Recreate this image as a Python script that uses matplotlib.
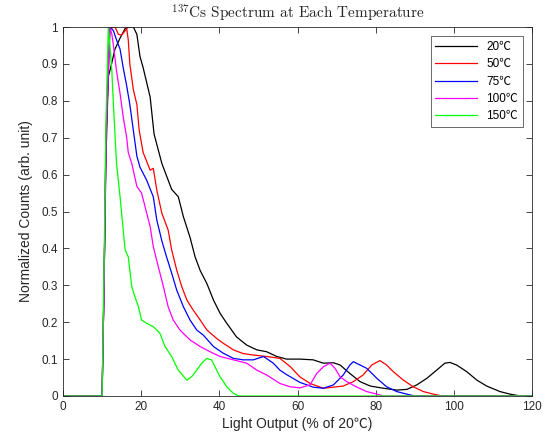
import matplotlib
matplotlib.use("Agg")
import matplotlib.pyplot as plt

# ---- data ----
x_20 = [0, 10, 10.5, 11, 11.6, 12.2, 13.3, 14.6, 15.9, 17.1, 18.0, 18.9, 19.7, 20.5, 22.3, 23.3, 25.3, 27.8,
        29.5, 30.8, 32.5, 33.8, 35.1, 36.8, 38.5, 40.2, 41.9, 44.4, 47.0, 49.6, 52.1, 54.7, 57.2, 60.6, 64.0,
        66.6, 69.2, 70.9, 73.4, 76.0, 78.6, 82.0, 85.4, 88.0, 90.5, 93.1, 95.6, 97.7, 99.0, 100.7, 103.3,
        105.9, 108.4, 111.8, 114.4, 117.0, 120]
y_20 = [0, 0, 0.30, 0.65, 0.866, 0.89, 0.94, 0.97, 0.996, 1.0, 1.0, 0.98, 0.92, 0.89, 0.81, 0.71, 0.63, 0.56,
        0.54, 0.486, 0.43, 0.377, 0.34, 0.305, 0.26, 0.224, 0.197, 0.16, 0.138, 0.125, 0.12, 0.107, 0.10, 0.10,
        0.098, 0.089, 0.09, 0.084, 0.061, 0.039, 0.027, 0.021, 0.016, 0.018, 0.03, 0.048, 0.07, 0.089, 0.091,
        0.084, 0.066, 0.043, 0.027, 0.012, 0.005, 0.0, 0.0]

x_50 = [0, 10, 10.5, 11, 12.0, 13.3, 14.2, 15.0, 15.9, 16.3, 16.7, 17.1, 18.0, 18.9, 19.5, 20.5, 22.3, 23.1,
        24.0, 25.3, 26.9, 27.8, 29.1, 30.4, 31.7, 33.3, 35.1, 36.8, 39.3, 41.0, 43.6, 46.1, 48.7, 52.1, 55.5,
        58.1, 60.6, 63.2, 66.6, 69.2, 71.7, 74.3, 76.8, 79.0, 81.1, 82.8, 84.5, 87.1, 89.6, 92.2, 94.8, 97.0, 120]
y_50 = [0, 0, 0.30, 0.70, 0.996, 1.0, 0.98, 0.978, 0.99, 0.996, 0.965, 0.90, 0.83, 0.79, 0.72, 0.66, 0.612,
        0.617, 0.558, 0.495, 0.45, 0.396, 0.341, 0.296, 0.26, 0.233, 0.206, 0.179, 0.156, 0.143, 0.125, 0.115,
        0.111, 0.107, 0.102, 0.08, 0.052, 0.034, 0.021, 0.024, 0.027, 0.039, 0.057, 0.084, 0.096, 0.084, 0.066,
        0.043, 0.025, 0.012, 0.005, 0.0, 0.0]

x_75 = [0, 10, 10.5, 11, 12.0, 12.9, 13.7, 14.6, 15.4, 16.3, 17.1, 18.0, 18.9, 19.7, 21.4, 23.1, 24.0, 25.3,
        26.5, 27.8, 29.1, 30.8, 32.5, 34.2, 35.9, 38.5, 41.0, 43.6, 46.1, 48.7, 51.3, 53.8, 55.5, 57.2, 60.6,
        64.0, 66.6, 69.2, 71.7, 73.4, 74.3, 76.0, 77.7, 80.3, 82.8, 85.4, 88.0, 90.0, 120]
y_75 = [0, 0, 0.30, 0.70, 1.0, 0.99, 0.965, 0.94, 0.89, 0.84, 0.79, 0.72, 0.65, 0.62, 0.585, 0.54, 0.477, 0.42,
        0.377, 0.333, 0.287, 0.242, 0.206, 0.179, 0.165, 0.134, 0.116, 0.102, 0.098, 0.098, 0.107, 0.089,
        0.07, 0.058, 0.037, 0.024, 0.021, 0.03, 0.057, 0.084, 0.093, 0.084, 0.075, 0.048, 0.025, 0.012, 0.005,
        0.0, 0.0]

x_100 = [0, 10, 10.5, 11, 12.0, 12.5, 12.9, 13.7, 14.6, 15.4, 16.3, 16.7, 17.6, 18.9, 20.1, 21.0, 22.3, 23.1,
         24.4, 25.7, 26.9, 28.2, 29.9, 32.5, 35.1, 37.6, 40.2, 43.6, 47.0, 49.6, 52.1, 55.5, 58.1, 60.6, 63.2,
         64.9, 66.6, 68.3, 69.6, 70.9, 72.6, 75.2, 77.7, 80.3, 82.0, 120]
y_100 = [0, 0, 0.30, 0.70, 1.0, 0.98, 0.95, 0.88, 0.82, 0.757, 0.70, 0.66, 0.63, 0.568, 0.55, 0.513, 0.459,
         0.405, 0.35, 0.296, 0.242, 0.206, 0.179, 0.152, 0.134, 0.12, 0.107, 0.098, 0.089, 0.07, 0.057, 0.034,
         0.025, 0.022, 0.03, 0.061, 0.079, 0.089, 0.075, 0.052, 0.039, 0.024, 0.012, 0.005, 0.0, 0.0]

x_150 = [0, 10, 10.5, 11, 11.6, 12.0, 12.5, 12.9, 13.7, 14.6, 15.4, 15.9, 16.7, 17.6, 18.4, 19.3, 20.1, 21.4,
         23.1, 24.8, 26.1, 27.8, 29.5, 31.7, 32.9, 34.2, 35.5, 36.8, 38.0, 38.9, 40.2, 41.9, 43.6, 45.0, 120]
y_150 = [0, 0, 0.35, 0.75, 1.0, 0.95, 0.88, 0.79, 0.63, 0.54, 0.45, 0.396, 0.377, 0.296, 0.269, 0.242, 0.206,
         0.197, 0.188, 0.17, 0.134, 0.107, 0.07, 0.043, 0.052, 0.07, 0.089, 0.102, 0.098, 0.079, 0.052, 0.025,
         0.007, 0.0, 0.0]

labels = ["20\u2103", "50\u2103", "75\u2103", "100\u2103", "150\u2103"]
colors = ["#000000", "#ff0000", "#0000ff", "#ff00ff", "#00ff00"]
xticks = [0, 20, 40, 60, 80, 100, 120]
yticks = [0, 0.1, 0.2, 0.3, 0.4, 0.5, 0.6, 0.7, 0.8, 0.9, 1]
ytick_labels = ["0", "0.1", "0.2", "0.3", "0.4", "0.5", "0.6", "0.7", "0.8", "0.9", "1"]

plt.rcParams['font.family'] = ['Liberation Sans', 'Noto Sans CJK SC', 'DejaVu Sans']
plt.rcParams['mathtext.fontset'] = 'cm'

fig = plt.figure(figsize=(5.52, 4.45), dpi=100)
ax = fig.add_axes([63/552, 1-396/445, 469/552, 369/445])

series = [(x_20, y_20), (x_50, y_50), (x_75, y_75), (x_100, y_100), (x_150, y_150)]
for (xs, ys), lab, c in zip(series, labels, colors):
    ax.plot(xs, ys, color=c, lw=0.9, label=lab)

ax.set_xlim(0, 120)
ax.set_ylim(0, 1)
ax.set_xticks(xticks)
ax.set_yticks(yticks)
ax.set_yticklabels(ytick_labels)
ax.tick_params(direction='in', top=True, right=True, labelsize=8.5, colors='#262626',
               length=4, width=0.6)
for s in ax.spines.values():
    s.set_color('#262626')
    s.set_linewidth(0.6)

ax.set_xlabel("Light Output (% of 20\u2103)", fontsize=10, color='#262626', labelpad=3)
ax.set_ylabel("Normalized Counts (arb. unit)", fontsize=10, color='#262626', labelpad=6)
ax.set_title(r"$^{137}$Cs Spectrum at Each Temperature", fontsize=11, family='cmr10',
             color='#262626', pad=6)

leg = ax.legend(loc='upper right', fontsize=8.5, frameon=True, fancybox=False,
                edgecolor='#262626', handlelength=3.5, borderaxespad=0.8,
                labelspacing=0.45, borderpad=0.4)
leg.get_frame().set_linewidth(0.6)

fig.savefig("out.png", dpi=100)
